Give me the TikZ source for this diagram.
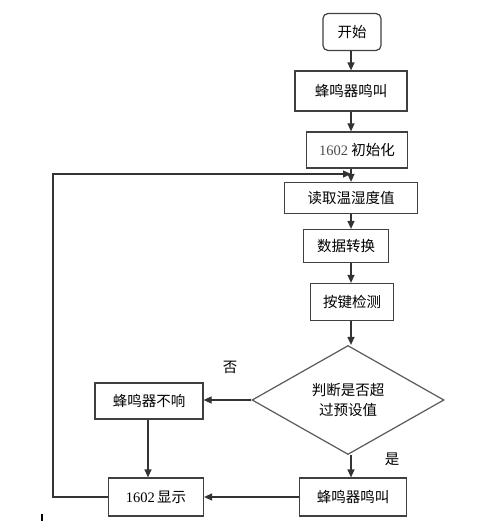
\documentclass[tikz,border=0pt]{standalone}
\usepackage{fontspec}
\setmainfont{Liberation Serif}
\newfontfamily\cjk{Noto Sans CJK SC}
\usetikzlibrary{shapes.geometric,arrows.meta}
\begin{document}
\begin{tikzpicture}[x=1pt,y=-1pt,
  box/.style={draw=black!75,line width=1.2pt,minimum height=#1,inner sep=0pt,font=\cjk\fontsize{14.5}{17}\selectfont},
  box/.default=37pt,
  arr/.style={draw=black!80,line width=1.2pt,-{Triangle[length=8pt,width=7pt]}},
  lbl/.style={font=\cjk\fontsize{14.5}{17}\selectfont}]
\useasboundingbox (0,0) rectangle (483,522);
\node[box=37pt,rounded corners=5pt,minimum width=58pt] (start) at (352,32) {开始};
\node[box=40pt,minimum width=112pt] (buzz1) at (351,91) {蜂鸣器鸣叫};
\node[box=36pt,minimum width=101pt] (init) at (357,150) {{\rmfamily\color{black!70}1602} 初始化};
\node[box=31pt,minimum width=133pt] (read) at (351,198) {读取温湿度值};
\node[box=33pt,minimum width=85pt] (conv) at (346,246) {数据转换};
\node[box=37pt,minimum width=83pt] (key) at (352,302) {按键检测};
\node[draw=black!65,line width=1.2pt,diamond,aspect=1.76,minimum width=192pt,minimum height=109pt,inner sep=0pt,align=center,font=\cjk\fontsize{14.5}{20}\selectfont] (dec) at (348,400) {判断是否超\\过预设值};
\node[box=36pt,minimum width=108pt] (quiet) at (149,401) {蜂鸣器不响};
\node[box=38pt,minimum width=95pt] (disp) at (156,497) {{\rmfamily 1602}\,显示};
\node[box=38pt,minimum width=107pt] (buzz2) at (353,497) {蜂鸣器鸣叫};
\node[lbl] (no) at (230,367) {否};
\node[lbl] (yes) at (392,459) {是};
\coordinate (loopA) at (53,497);
\coordinate (loopB) at (53,174);
\coordinate (loopC) at (351,174);
\draw[arr] (start.south -| 351,0) -- (buzz1.north -| 351,0);
\draw[arr] (buzz1.south -| 351,0) -- (init.north -| 351,0);
\draw[arr] (init.south -| 351,0) -- (read.north -| 351,0);
\draw[arr] (read.south -| 351,0) -- (conv.north -| 351,0);
\draw[arr] (conv.south -| 351,0) -- (key.north -| 351,0);
\draw[arr] (key.south -| 351,0) -- (dec.north -| 351,0);
\draw[arr] (dec.west) -- (dec.west -| quiet.east);
\draw[arr] (dec.south -| 351,0) -- (buzz2.north -| 351,0);
\draw[arr] (quiet.south -| 148,0) -- (disp.north -| 148,0);
\draw[arr] (buzz2.west) -- (disp.east);
\draw[draw=black!80,line width=1.2pt] (disp.west) -- (loopA) -- (loopB) -- ([xshift=-2pt]loopC);
\draw[arr] (loopB) -- (loopC);
\draw[black,line width=1.2pt] (42,514) -- (42,521);
\end{tikzpicture}
\end{document}
